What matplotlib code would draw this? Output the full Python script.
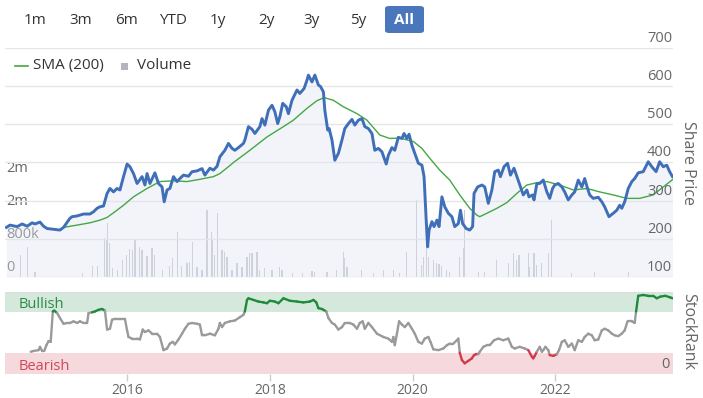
import matplotlib
matplotlib.use("Agg")
import matplotlib.pyplot as plt
import matplotlib.transforms as mtransforms
from matplotlib.collections import LineCollection
from matplotlib.patches import FancyBboxPatch, Rectangle
from matplotlib.lines import Line2D
import numpy as np

plt.rcParams['font.family'] = ['Open Sans', 'DejaVu Sans']

# ---- data ----
price_dates = [
    2014.31, 2014.36, 2014.46, 2014.53, 2014.60, 2014.67, 2014.71, 2014.78, 2014.83, 2014.88,
    2014.97, 2015.06, 2015.11, 2015.20, 2015.23, 2015.30, 2015.39, 2015.48, 2015.53, 2015.58,
    2015.62, 2015.67, 2015.72, 2015.76, 2015.81, 2015.86, 2015.90, 2015.95, 2016.00, 2016.04,
    2016.09, 2016.14, 2016.21, 2016.25, 2016.28, 2016.32, 2016.39, 2016.44, 2016.49, 2016.52,
    2016.56, 2016.60, 2016.65, 2016.70, 2016.74, 2016.79, 2016.86, 2016.91, 2016.98, 2017.05,
    2017.09, 2017.16, 2017.21, 2017.26, 2017.30, 2017.37, 2017.42, 2017.47, 2017.51, 2017.56,
    2017.63, 2017.65, 2017.70, 2017.75, 2017.79, 2017.86, 2017.89, 2017.93, 2017.98, 2018.03,
    2018.07, 2018.11, 2018.14, 2018.18, 2018.23, 2018.26, 2018.31, 2018.38, 2018.42, 2018.48,
    2018.52, 2018.54, 2018.59, 2018.63, 2018.68, 2018.71, 2018.75, 2018.77, 2018.81, 2018.83,
    2018.87, 2018.91, 2018.96, 2019.01, 2019.05, 2019.10, 2019.15, 2019.19, 2019.24, 2019.29,
    2019.33, 2019.38, 2019.43, 2019.47, 2019.52, 2019.57, 2019.63, 2019.66, 2019.71, 2019.75,
    2019.80, 2019.85, 2019.88, 2019.92, 2019.95, 2019.99, 2020.03, 2020.08, 2020.13, 2020.16,
    2020.19, 2020.21, 2020.23, 2020.27, 2020.30, 2020.34, 2020.37, 2020.41, 2020.45, 2020.50,
    2020.55, 2020.59, 2020.64, 2020.67, 2020.70, 2020.75, 2020.80, 2020.84, 2020.86, 2020.91,
    2020.97, 2021.01, 2021.06, 2021.11, 2021.15, 2021.20, 2021.23, 2021.28, 2021.33, 2021.37,
    2021.42, 2021.47, 2021.50, 2021.55, 2021.60, 2021.63, 2021.68, 2021.70, 2021.74, 2021.78,
    2021.83, 2021.88, 2021.92, 2021.96, 2021.99, 2022.04, 2022.09, 2022.13, 2022.18, 2022.23,
    2022.27, 2022.32, 2022.37, 2022.41, 2022.45, 2022.48, 2022.53, 2022.60, 2022.65, 2022.69,
    2022.75, 2022.81, 2022.86, 2022.90, 2022.93, 2022.97, 2023.02, 2023.07, 2023.11, 2023.16,
    2023.23, 2023.30, 2023.35, 2023.41, 2023.46, 2023.51, 2023.56, 2023.60, 2023.64,
]
price_values = [
    230, 236, 232, 239, 233, 242, 239, 244, 233, 227,
    225, 223, 230, 254, 258, 260, 265, 265, 271, 280,
    284, 286, 319, 332, 323, 332, 328, 363, 396, 389,
    371, 345, 363, 341, 371, 345, 373, 345, 336, 297,
    328, 332, 363, 350, 358, 367, 364, 376, 378, 384,
    367, 385, 380, 390, 415, 432, 450, 437, 432, 439,
    450, 459, 494, 487, 476, 494, 515, 498, 537, 550,
    533, 502, 520, 555, 546, 528, 563, 590, 581, 594,
    616, 629, 611, 629, 603, 599, 585, 537, 485, 489,
    459, 406, 424, 459, 489, 502, 513, 498, 511, 515,
    494, 489, 476, 432, 437, 428, 396, 419, 439, 432,
    466, 463, 476, 463, 474, 445, 424, 398, 393, 363,
    249, 179, 223, 245, 232, 249, 232, 310, 284, 267,
    258, 232, 240, 275, 240, 227, 223, 232, 319, 336,
    341, 336, 293, 328, 376, 380, 363, 389, 398, 367,
    385, 358, 341, 315, 328, 310, 315, 302, 345, 345,
    354, 323, 306, 332, 341, 345, 336, 323, 302, 315,
    323, 354, 336, 358, 332, 315, 306, 309, 297, 284,
    258, 267, 275, 288, 280, 297, 332, 350, 358, 373,
    376, 402, 389, 376, 402, 389, 393, 376, 363,
]

sma_dates = [
    2015.11, 2015.30, 2015.48, 2015.62, 2015.72, 2015.83, 2015.95, 2016.09, 2016.28, 2016.46,
    2016.65, 2016.84, 2017.02, 2017.21, 2017.30, 2017.44, 2017.49, 2017.72, 2017.96, 2018.19,
    2018.33, 2018.52, 2018.66, 2018.76, 2018.89, 2019.03, 2019.22, 2019.36, 2019.54, 2019.68,
    2019.82, 2020.01, 2020.13, 2020.24, 2020.38, 2020.52, 2020.66, 2020.80, 2020.90, 2020.94,
    2021.04, 2021.18, 2021.32, 2021.46, 2021.60, 2021.74, 2021.88, 2022.06, 2022.25, 2022.44,
    2022.62, 2022.81, 2023.00, 2023.18, 2023.37, 2023.51, 2023.64,
]
sma_values = [
    230, 236, 242, 249, 256, 271, 288, 310, 332, 350,
    352, 350, 356, 363, 371, 392, 400, 432, 467, 494,
    511, 542, 562, 570, 563, 546, 528, 511, 472, 463,
    464, 455, 437, 411, 380, 354, 315, 280, 262, 258,
    267, 280, 295, 319, 341, 347, 350, 341, 328, 332,
    323, 315, 306, 306, 315, 336, 355,
]

vol_dates = [
    2014.51, 2014.60, 2014.71, 2015.38, 2015.52, 2015.58, 2015.68, 2015.71, 2015.72, 2015.75,
    2015.80, 2015.86, 2015.93, 2015.94, 2015.99, 2016.03, 2016.08, 2016.11, 2016.17, 2016.21,
    2016.28, 2016.35, 2016.39, 2016.50, 2016.60, 2016.64, 2016.71, 2016.76, 2016.84, 2016.87,
    2016.92, 2016.98, 2017.05, 2017.12, 2017.13, 2017.18, 2017.20, 2017.23, 2017.27, 2017.33,
    2017.36, 2017.37, 2017.40, 2017.41, 2017.47, 2017.54, 2017.61, 2017.68, 2017.71, 2017.75,
    2017.76, 2017.82, 2017.86, 2017.93, 2018.03, 2018.14, 2018.17, 2018.32, 2018.46, 2018.59,
    2018.63, 2018.80, 2018.93, 2019.03, 2019.05, 2019.08, 2019.28, 2019.45, 2019.59, 2019.73,
    2019.82, 2019.92, 2020.05, 2020.06, 2020.13, 2020.15, 2020.19, 2020.22, 2020.29, 2020.34,
    2020.37, 2020.41, 2020.48, 2020.52, 2020.66, 2020.71, 2020.73, 2020.92, 2021.01, 2021.18,
    2021.34, 2021.41, 2021.46, 2021.49, 2021.62, 2021.64, 2021.69, 2021.71, 2021.74, 2021.81,
    2021.90, 2021.95, 2022.23, 2022.55, 2023.02,
]
vol_values = [
    532e3, 734e3, 129e3, 96e3, 267e3, 267e3, 936e3, 896e3, 1299e3, 822e3,
    211e3, 169e3, 332e3, 411e3, 532e3, 670e3, 653e3, 912e3, 732e3, 653e3,
    508e3, 694e3, 532e3, 169e3, 267e3, 452e3, 1095e3, 267e3, 346e3, 370e3,
    853e3, 249e3, 169e3, 1621e3, 1057e3, 1095e3, 896e3, 532e3, 1541e3, 653e3,
    605e3, 332e3, 484e3, 491e3, 169e3, 332e3, 249e3, 491e3, 573e3, 573e3,
    249e3, 612e3, 169e3, 211e3, 169e3, 249e3, 169e3, 90e3, 90e3, 152e3,
    129e3, 129e3, 169e3, 612e3, 452e3, 249e3, 169e3, 90e3, 169e3, 169e3,
    90e3, 612e3, 1863e3, 273e3, 290e3, 491e3, 732e3, 491e3, 411e3, 332e3,
    315e3, 267e3, 169e3, 129e3, 491e3, 694e3, 1621e3, 129e3, 129e3, 411e3,
    332e3, 588e3, 411e3, 532e3, 573e3, 249e3, 588e3, 588e3, 290e3, 332e3,
    573e3, 1379e3, 104e3, 129e3, 129e3,
]

rank_dates = [
    2014.65, 2014.69, 2014.76, 2014.78, 2014.81, 2014.84, 2014.87, 2014.90, 2014.93, 2014.96,
    2014.98, 2015.02, 2015.06, 2015.11, 2015.16, 2015.20, 2015.25, 2015.30, 2015.34, 2015.39,
    2015.44, 2015.46, 2015.51, 2015.55, 2015.60, 2015.65, 2015.69, 2015.72, 2015.76, 2015.79,
    2015.83, 2015.90, 2015.97, 2016.00, 2016.02, 2016.07, 2016.14, 2016.18, 2016.22, 2016.25,
    2016.30, 2016.35, 2016.42, 2016.46, 2016.51, 2016.56, 2016.60, 2016.64, 2016.67, 2016.72,
    2016.77, 2016.81, 2016.86, 2016.91, 2016.98, 2017.02, 2017.05, 2017.09, 2017.16, 2017.23,
    2017.28, 2017.30, 2017.33, 2017.37, 2017.44, 2017.51, 2017.58, 2017.63, 2017.65, 2017.68,
    2017.70, 2017.77, 2017.84, 2017.91, 2017.96, 2018.00, 2018.07, 2018.12, 2018.19, 2018.28,
    2018.38, 2018.47, 2018.56, 2018.61, 2018.65, 2018.68, 2018.73, 2018.79, 2018.82, 2018.87,
    2018.91, 2018.96, 2019.01, 2019.05, 2019.10, 2019.12, 2019.17, 2019.22, 2019.26, 2019.30,
    2019.33, 2019.38, 2019.43, 2019.50, 2019.59, 2019.66, 2019.71, 2019.73, 2019.75, 2019.78,
    2019.81, 2019.85, 2019.89, 2019.94, 2019.99, 2020.03, 2020.08, 2020.13, 2020.17, 2020.22,
    2020.25, 2020.29, 2020.36, 2020.43, 2020.48, 2020.52, 2020.57, 2020.62, 2020.64, 2020.66,
    2020.69, 2020.73, 2020.78, 2020.83, 2020.86, 2020.89, 2020.92, 2020.94, 2020.99, 2021.04,
    2021.08, 2021.14, 2021.20, 2021.27, 2021.34, 2021.39, 2021.43, 2021.50, 2021.57, 2021.62,
    2021.67, 2021.69, 2021.71, 2021.74, 2021.78, 2021.81, 2021.83, 2021.86, 2021.90, 2021.92,
    2021.97, 2022.02, 2022.05, 2022.09, 2022.13, 2022.18, 2022.23, 2022.27, 2022.32, 2022.37,
    2022.41, 2022.46, 2022.51, 2022.55, 2022.60, 2022.65, 2022.69, 2022.74, 2022.79, 2022.83,
    2022.88, 2022.93, 2022.97, 2023.01, 2023.07, 2023.11, 2023.13, 2023.16, 2023.23, 2023.30,
    2023.37, 2023.42, 2023.47, 2023.54, 2023.61, 2023.64,
]
rank_values = [
    27, 28, 29, 33, 28, 28, 35, 40, 39, 76,
    77, 74, 68, 61, 62, 62, 64, 62, 64, 62,
    62, 74, 75, 76, 78, 79, 77, 54, 55, 66,
    67, 67, 67, 53, 45, 43, 43, 42, 54, 51,
    53, 49, 49, 45, 29, 31, 37, 39, 36, 42,
    49, 55, 61, 62, 61, 60, 47, 47, 49, 47,
    55, 62, 57, 62, 64, 65, 69, 72, 76, 90,
    92, 90, 88, 87, 86, 89, 88, 86, 92, 89,
    88, 87, 88, 90, 87, 80, 79, 76, 68, 62,
    60, 54, 57, 62, 62, 62, 60, 55, 62, 64,
    55, 62, 57, 49, 45, 43, 39, 45, 35, 49,
    64, 60, 57, 62, 55, 49, 39, 37, 43, 45,
    39, 30, 29, 31, 35, 37, 37, 41, 43, 26,
    17, 13, 16, 19, 23, 24, 24, 27, 33, 35,
    35, 41, 43, 41, 43, 33, 31, 33, 31, 29,
    21, 19, 22, 27, 33, 27, 29, 33, 29, 23,
    22, 24, 29, 39, 41, 33, 37, 29, 41, 39,
    45, 49, 47, 41, 42, 53, 55, 53, 49, 47,
    46, 49, 53, 64, 64, 62, 76, 95, 96, 95,
    95, 92, 94, 95, 93, 92,
]

price_ticks = [100, 200, 300, 400, 500, 600, 700]
vol_ticks = [0, 800e3, 1.6e6, 2.4e6]
vol_labels = ['0', '800k', '2m', '2m']
year_ticks = [2016, 2018, 2020, 2022]
buttons = ['1m', '3m', '6m', 'YTD', '1y', '2y', '3y', '5y', 'All']

# ---- layout helpers (pixels -> figure fraction) ----
W, H = 703, 398
def fx(x):
    return x / W
def fy(y):
    return 1 - y / H

TXT = '#666666'
GRID = '#e6e6e6'
XMIN, XMAX = 2014.29, 2023.647

fig = plt.figure(figsize=(W / 100, H / 100), dpi=100)

# volume axes (behind)
rect = [fx(5), fy(277), fx(673) - fx(5), fy(48) - fy(277)]
axv = fig.add_axes(rect, zorder=1)
axv.bar(vol_dates, vol_values, width=0.016, color='#c6c6cc', linewidth=0)
axv.set_xlim(XMIN, XMAX)
axv.set_ylim(0, 5.55e6)
axv.axis('off')

# price axes
ax = fig.add_axes(rect, zorder=2)
ax.patch.set_alpha(0)
for v in price_ticks:
    ax.axhline(v, color=GRID, lw=1, zorder=0)
ax.fill_between(price_dates, price_values, 100, color='#dfe5f3', alpha=0.4, lw=0, zorder=1)
ax.plot(sma_dates, sma_values, color='#43a843', lw=1.0, zorder=3)
ax.plot(price_dates, price_values, color='#3f6fb8', lw=2.1, zorder=4,
        solid_joinstyle='round')
ax.set_xlim(XMIN, XMAX)
ax.set_ylim(100, 700)
ax.axis('off')

tr = mtransforms.offset_copy(
    mtransforms.blended_transform_factory(ax.transAxes, ax.transData),
    fig=fig, x=-1, y=2, units='dots')
for v in price_ticks:
    ax.text(1.0, v, str(v), transform=tr, ha='right', va='bottom',
            fontsize=10.5, color=TXT)

trv = mtransforms.offset_copy(
    mtransforms.blended_transform_factory(axv.transAxes, axv.transData),
    fig=fig, x=1, y=2, units='dots')
for v, lab in zip(vol_ticks, vol_labels):
    axv.text(0.0, v, lab, transform=trv, ha='left', va='bottom',
             fontsize=10.5, color=TXT)

fig.text(fx(688), fy(163), 'Share Price', rotation=270, ha='center', va='center',
         fontsize=11.5, color=TXT)

# legend
fig.add_artist(Line2D([fx(15), fx(28)], [fy(65.5), fy(65.5)], color='#43a843', lw=1.2))
fig.text(fx(33), fy(65.5), 'SMA (200)', ha='left', va='center', fontsize=11, color='#333333')
fig.add_artist(Rectangle((fx(121), fy(70)), fx(7), 7 / H, color='#b4b4bc', lw=0))
fig.text(fx(137), fy(65.5), 'Volume', ha='left', va='center', fontsize=11, color='#333333')

# range buttons
btn_x = [35, 81, 127, 173, 218, 266, 312, 358, 404]
fig.add_artist(FancyBboxPatch((fx(385), fy(33)), fx(424) - fx(385), fy(6) - fy(33),
                              boxstyle='round,pad=0,rounding_size=0.006',
                              fc='#4a77bb', ec='none'))
for bx, lab in zip(btn_x, buttons):
    if lab == 'All':
        fig.text(fx(bx), fy(20), lab, ha='center', va='center', fontsize=11,
                 color='white', fontweight='bold')
    else:
        fig.text(fx(bx), fy(20), lab, ha='center', va='center', fontsize=11,
                 color='#333333')

# StockRank panel
axr = fig.add_axes([fx(5), fy(374), fx(673) - fx(5), fy(291.7) - fy(374)])
axr.axhspan(75, 100, color='#d4e9dc', lw=0, zorder=0)
axr.axhspan(0, 25, color='#f5d9dc', lw=0, zorder=0)
axr.axhline(100, color='#dddddd', lw=1, zorder=1)

pts = np.column_stack([rank_dates, rank_values])
segs = np.stack([pts[:-1], pts[1:]], axis=1)
cols = []
for a, b in zip(rank_values[:-1], rank_values[1:]):
    m = (a + b) / 2
    if m >= 75:
        cols.append('#1e8a3a')
    elif m <= 25:
        cols.append('#d33a4c')
    else:
        cols.append('#9a9a9a')
axr.add_collection(LineCollection(segs, colors=cols, linewidths=1.7,
                                  capstyle='round', joinstyle='round', zorder=3))
axr.set_xlim(XMIN, XMAX)
axr.set_ylim(0, 100)
for s in axr.spines.values():
    s.set_visible(False)
axr.set_yticks([])
axr.set_xticks(year_ticks)
axr.set_xticklabels([str(y) for y in year_ticks])
axr.tick_params(axis='x', length=5, width=1, color='#cccccc', labelcolor=TXT,
                labelsize=10, pad=1.5)
btr = mtransforms.blended_transform_factory(axr.transAxes, axr.transData)
axr.text(0.02, 85, 'Bullish', transform=btr, ha='left', va='center',
         fontsize=10.5, color='#2a8a4c')
axr.text(0.02, 9, 'Bearish', transform=btr, ha='left', va='center',
         fontsize=10.5, color='#d2455a')
axr.text(0.995, 2, '0', transform=btr, ha='right', va='bottom', fontsize=10.5, color=TXT)
fig.text(fx(688), fy(331), 'StockRank', rotation=270, ha='center', va='center',
         fontsize=11.5, color=TXT)

fig.savefig('out.png', dpi=100, facecolor='white')
